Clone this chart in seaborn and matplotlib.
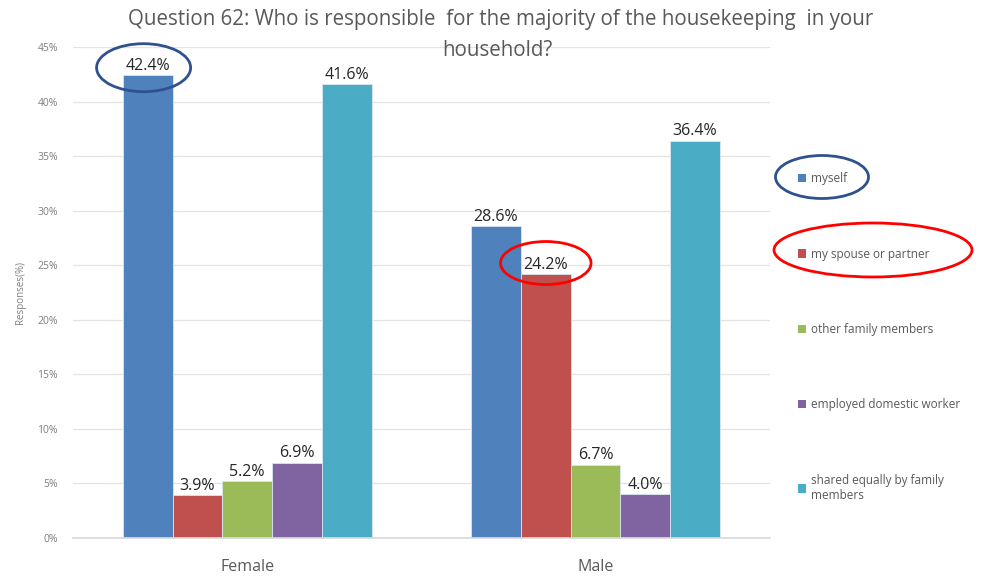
import matplotlib
matplotlib.use("Agg")
import matplotlib.pyplot as plt
from matplotlib.patches import Ellipse, Patch
import pandas as pd
import seaborn as sns

# Survey results (percent of respondents)
genders = ["Female", "Male"]
answers = [
    "myself",
    "my spouse or partner",
    "other family members",
    "employed domestic worker",
    "shared equally by family\nmembers",
]
female_pct = [42.4, 3.9, 5.2, 6.9, 41.6]
male_pct = [28.6, 24.2, 6.7, 4.0, 36.4]
y_ticks = [0, 5, 10, 15, 20, 25, 30, 35, 40, 45]
palette = ["#4f81bd", "#c0504d", "#9bbb59", "#8064a2", "#4bacc6"]
title_lines = [
    "Question 62: Who is responsible  for the majority of the housekeeping  in your",
    "household?",
]

rows = []
for g, vals in zip(genders, [female_pct, male_pct]):
    for a, v in zip(answers, vals):
        rows.append({"gender": g, "answer": a, "pct": v})
df = pd.DataFrame(rows)

sns.set_theme(style="white")
plt.rcParams["font.family"] = ["Open Sans", "DejaVu Sans"]

fig = plt.figure(figsize=(9.88, 5.77), dpi=100)
ax = fig.add_axes([0.074, 0.0676, 0.705, 0.851])

sns.barplot(data=df, x="gender", y="pct", hue="answer", order=genders,
            hue_order=answers, palette=palette, width=0.714, gap=0,
            edgecolor="#dbe5f1", linewidth=0.6, saturation=1, ax=ax,
            legend=False)

ax.set_xlim(-0.5, 1.5)
ax.set_ylim(0, 45)
ax.set_yticks(y_ticks)
ax.set_yticklabels([f"{t}%" for t in y_ticks], fontsize=7.5, color="#7f7f7f")
ax.yaxis.grid(True, color="#e3e3e3", linewidth=0.9)
ax.set_axisbelow(True)
for s in ["left", "right", "top"]:
    ax.spines[s].set_visible(False)
ax.spines["bottom"].set_color("#d9d9d9")
ax.tick_params(axis="both", length=0)
ax.tick_params(axis="y", pad=11)
ax.tick_params(axis="x", labelsize=11.5, labelcolor="#595959", pad=15)
ax.set_xlabel("")
ax.set_ylabel("Responses(%)", fontsize=7, color="#7f7f7f", labelpad=8)

for cont in ax.containers:
    ax.bar_label(cont, labels=[f"{v:.1f}%" for v in cont.datavalues],
                 padding=1, fontsize=11.5, color="#262626")

# Two-line title, each line placed separately
fig.text(0.507, 1 - 20 / 577, title_lines[0], ha="center", va="center",
         fontsize=14.8, color="#595959")
fig.text(0.503, 1 - 50 / 577, title_lines[1], ha="center", va="center",
         fontsize=14.8, color="#595959")

# Highlight rings around two value labels
first_bar = ax.containers[0].patches[0]
cx = first_bar.get_x() + first_bar.get_width() / 2
ax.add_patch(Ellipse((cx - 0.012, first_bar.get_height() + 0.7), 0.27, 4.4,
                     fill=False, edgecolor="#2f528f", linewidth=2, clip_on=False))
spouse_bar = ax.containers[1].patches[1]
cx = spouse_bar.get_x() + spouse_bar.get_width() / 2
ax.add_patch(Ellipse((cx, spouse_bar.get_height() + 1.0), 0.26, 3.94,
                     fill=False, edgecolor="#ff0000", linewidth=2, clip_on=False))

# Legend on the right
handles = [Patch(facecolor=c, edgecolor="none") for c in palette]
leg = fig.legend(handles, answers, loc="upper left",
                 bbox_to_anchor=(0.797, 0.72), frameon=False,
                 fontsize=8.5, labelcolor="#595959", handlelength=0.7,
                 handleheight=0.7, handletextpad=0.4, labelspacing=5.28)

fig.add_artist(Ellipse((822 / 988, 1 - 177 / 577), 93 / 988, 43 / 577,
                       transform=fig.transFigure, fill=False,
                       edgecolor="#2f528f", linewidth=2))
fig.add_artist(Ellipse((873 / 988, 1 - 250 / 577), 198 / 988, 54 / 577,
                       transform=fig.transFigure, fill=False,
                       edgecolor="#ff0000", linewidth=2))

fig.savefig("out.png", dpi=100)
